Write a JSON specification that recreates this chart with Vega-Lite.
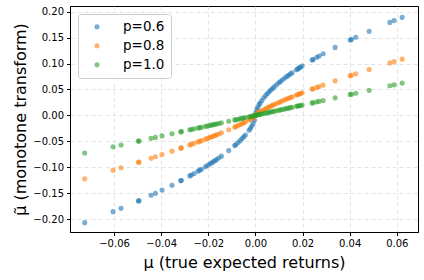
{
"$schema": "https://vega.github.io/schema/vega-lite/v6.json",
"autosize": {"type": "none"},
"width": 348, "height": 226,
"padding": {"left": 70, "top": 6, "right": 6, "bottom": 48},
"background": "white",
"config": {
  "font": "DejaVu Sans",
  "view": {"stroke": "black", "strokeWidth": 1},
  "axis": {"domainColor": "black", "tickColor": "black", "tickSize": 3.5, "labelFontSize": 10, "labelColor": "black", "gridColor": "#dcdcdc", "gridDash": [4, 3], "gridWidth": 0.8, "titleFontWeight": "normal", "titleFontSize": 16, "titleColor": "black"},
  "legend": {"padding": 6, "rowPadding": 4, "labelFontSize": 13.5}
},
"data": {"values": [
{"mu":-0.07247,"p":"p=0.6","y":-0.2070},{"mu":-0.06044,"p":"p=0.6","y":-0.1857},{"mu":-0.05704,"p":"p=0.6","y":-0.1794},{"mu":-0.04968,"p":"p=0.6","y":-0.1651},{"mu":-0.04940,"p":"p=0.6","y":-0.1645},{"mu":-0.04430,"p":"p=0.6","y":-0.1541},{"mu":-0.04246,"p":"p=0.6","y":-0.1503},{"mu":-0.03963,"p":"p=0.6","y":-0.1442},{"mu":-0.03539,"p":"p=0.6","y":-0.1347},{"mu":-0.03171,"p":"p=0.6","y":-0.1261},{"mu":-0.03142,"p":"p=0.6","y":-0.1254},{"mu":-0.02788,"p":"p=0.6","y":-0.1168},{"mu":-0.02718,"p":"p=0.6","y":-0.1150},{"mu":-0.02604,"p":"p=0.6","y":-0.1121},{"mu":-0.02435,"p":"p=0.6","y":-0.1076},{"mu":-0.02364,"p":"p=0.6","y":-0.1057},{"mu":-0.02293,"p":"p=0.6","y":-0.1038},{"mu":-0.02123,"p":"p=0.6","y":-0.0992},{"mu":-0.02038,"p":"p=0.6","y":-0.0968},{"mu":-0.01939,"p":"p=0.6","y":-0.0939},{"mu":-0.01868,"p":"p=0.6","y":-0.0918},{"mu":-0.01798,"p":"p=0.6","y":-0.0897},{"mu":-0.01727,"p":"p=0.6","y":-0.0876},{"mu":-0.01656,"p":"p=0.6","y":-0.0854},{"mu":-0.01557,"p":"p=0.6","y":-0.0823},{"mu":-0.01444,"p":"p=0.6","y":-0.0787},{"mu":-0.01132,"p":"p=0.6","y":-0.0680},{"mu":-0.00878,"p":"p=0.6","y":-0.0583},{"mu":-0.00835,"p":"p=0.6","y":-0.0566},{"mu":-0.00736,"p":"p=0.6","y":-0.0525},{"mu":-0.00651,"p":"p=0.6","y":-0.0488},{"mu":-0.00566,"p":"p=0.6","y":-0.0448},{"mu":-0.00495,"p":"p=0.6","y":-0.0414},{"mu":-0.00425,"p":"p=0.6","y":-0.0378},{"mu":-0.00269,"p":"p=0.6","y":-0.0287},{"mu":-0.00212,"p":"p=0.6","y":-0.0249},{"mu":-0.00156,"p":"p=0.6","y":-0.0207},{"mu":-0.00099,"p":"p=0.6","y":-0.0158},{"mu":-0.00042,"p":"p=0.6","y":-0.00942},{"mu":0.00014,"p":"p=0.6","y":0.00487},{"mu":0.00057,"p":"p=0.6","y":0.01131},{"mu":0.00099,"p":"p=0.6","y":0.0158},{"mu":0.00156,"p":"p=0.6","y":0.0207},{"mu":0.00198,"p":"p=0.6","y":0.0239},{"mu":0.00269,"p":"p=0.6","y":0.0287},{"mu":0.00354,"p":"p=0.6","y":0.0338},{"mu":0.00439,"p":"p=0.6","y":0.0385},{"mu":0.00510,"p":"p=0.6","y":0.0421},{"mu":0.00580,"p":"p=0.6","y":0.0455},{"mu":0.00651,"p":"p=0.6","y":0.0488},{"mu":0.00722,"p":"p=0.6","y":0.0519},{"mu":0.00793,"p":"p=0.6","y":0.0549},{"mu":0.00892,"p":"p=0.6","y":0.0589},{"mu":0.00991,"p":"p=0.6","y":0.0627},{"mu":0.01062,"p":"p=0.6","y":0.0654},{"mu":0.01147,"p":"p=0.6","y":0.0685},{"mu":0.01246,"p":"p=0.6","y":0.0720},{"mu":0.01331,"p":"p=0.6","y":0.0749},{"mu":0.01401,"p":"p=0.6","y":0.0773},{"mu":0.01486,"p":"p=0.6","y":0.0800},{"mu":0.01557,"p":"p=0.6","y":0.0823},{"mu":0.01741,"p":"p=0.6","y":0.0880},{"mu":0.01798,"p":"p=0.6","y":0.0897},{"mu":0.01854,"p":"p=0.6","y":0.0914},{"mu":0.01911,"p":"p=0.6","y":0.0930},{"mu":0.01982,"p":"p=0.6","y":0.0952},{"mu":0.02406,"p":"p=0.6","y":0.1068},{"mu":0.02449,"p":"p=0.6","y":0.1080},{"mu":0.02604,"p":"p=0.6","y":0.1121},{"mu":0.02703,"p":"p=0.6","y":0.1146},{"mu":0.02873,"p":"p=0.6","y":0.1189},{"mu":0.03383,"p":"p=0.6","y":0.1311},{"mu":0.04020,"p":"p=0.6","y":0.1454},{"mu":0.04076,"p":"p=0.6","y":0.1466},{"mu":0.04260,"p":"p=0.6","y":0.1506},{"mu":0.04827,"p":"p=0.6","y":0.1623},{"mu":0.05704,"p":"p=0.6","y":0.1794},{"mu":0.05888,"p":"p=0.6","y":0.1828},{"mu":0.06228,"p":"p=0.6","y":0.1891},
{"mu":-0.07247,"p":"p=0.8","y":-0.1225},{"mu":-0.06044,"p":"p=0.8","y":-0.1059},{"mu":-0.05704,"p":"p=0.8","y":-0.1012},{"mu":-0.04968,"p":"p=0.8","y":-0.0905},{"mu":-0.04940,"p":"p=0.8","y":-0.0901},{"mu":-0.04430,"p":"p=0.8","y":-0.0826},{"mu":-0.04246,"p":"p=0.8","y":-0.0799},{"mu":-0.03963,"p":"p=0.8","y":-0.0756},{"mu":-0.03539,"p":"p=0.8","y":-0.0690},{"mu":-0.03171,"p":"p=0.8","y":-0.0632},{"mu":-0.03142,"p":"p=0.8","y":-0.0628},{"mu":-0.02788,"p":"p=0.8","y":-0.0570},{"mu":-0.02718,"p":"p=0.8","y":-0.0559},{"mu":-0.02604,"p":"p=0.8","y":-0.0540},{"mu":-0.02435,"p":"p=0.8","y":-0.0512},{"mu":-0.02364,"p":"p=0.8","y":-0.0500},{"mu":-0.02293,"p":"p=0.8","y":-0.0488},{"mu":-0.02123,"p":"p=0.8","y":-0.0459},{"mu":-0.02038,"p":"p=0.8","y":-0.0444},{"mu":-0.01939,"p":"p=0.8","y":-0.0427},{"mu":-0.01868,"p":"p=0.8","y":-0.0414},{"mu":-0.01798,"p":"p=0.8","y":-0.0402},{"mu":-0.01727,"p":"p=0.8","y":-0.0389},{"mu":-0.01656,"p":"p=0.8","y":-0.0376},{"mu":-0.01557,"p":"p=0.8","y":-0.0358},{"mu":-0.01444,"p":"p=0.8","y":-0.0337},{"mu":-0.01132,"p":"p=0.8","y":-0.0277},{"mu":-0.00878,"p":"p=0.8","y":-0.0226},{"mu":-0.00835,"p":"p=0.8","y":-0.0217},{"mu":-0.00736,"p":"p=0.8","y":-0.0197},{"mu":-0.00651,"p":"p=0.8","y":-0.0178},{"mu":-0.00566,"p":"p=0.8","y":-0.0159},{"mu":-0.00495,"p":"p=0.8","y":-0.0143},{"mu":-0.00425,"p":"p=0.8","y":-0.0127},{"mu":-0.00269,"p":"p=0.8","y":-0.00879},{"mu":-0.00212,"p":"p=0.8","y":-0.00727},{"mu":-0.00156,"p":"p=0.8","y":-0.00569},{"mu":-0.00099,"p":"p=0.8","y":-0.00395},{"mu":-0.00042,"p":"p=0.8","y":-0.00199},{"mu":0.00014,"p":"p=0.8","y":0.00083},{"mu":0.00057,"p":"p=0.8","y":0.00254},{"mu":0.00099,"p":"p=0.8","y":0.00395},{"mu":0.00156,"p":"p=0.8","y":0.00569},{"mu":0.00198,"p":"p=0.8","y":0.00687},{"mu":0.00269,"p":"p=0.8","y":0.00879},{"mu":0.00354,"p":"p=0.8","y":0.01094},{"mu":0.00439,"p":"p=0.8","y":0.0130},{"mu":0.00510,"p":"p=0.8","y":0.01466},{"mu":0.00580,"p":"p=0.8","y":0.01624},{"mu":0.00651,"p":"p=0.8","y":0.0178},{"mu":0.00722,"p":"p=0.8","y":0.01936},{"mu":0.00793,"p":"p=0.8","y":0.02086},{"mu":0.00892,"p":"p=0.8","y":0.02292},{"mu":0.00991,"p":"p=0.8","y":0.02493},{"mu":0.01062,"p":"p=0.8","y":0.02635},{"mu":0.01147,"p":"p=0.8","y":0.02803},{"mu":0.01246,"p":"p=0.8","y":0.02995},{"mu":0.01331,"p":"p=0.8","y":0.03158},{"mu":0.01401,"p":"p=0.8","y":0.03289},{"mu":0.01486,"p":"p=0.8","y":0.03448},{"mu":0.01557,"p":"p=0.8","y":0.0358},{"mu":0.01741,"p":"p=0.8","y":0.03914},{"mu":0.01798,"p":"p=0.8","y":0.0402},{"mu":0.01854,"p":"p=0.8","y":0.04116},{"mu":0.01911,"p":"p=0.8","y":0.04217},{"mu":0.01982,"p":"p=0.8","y":0.04342},{"mu":0.02406,"p":"p=0.8","y":0.0507},{"mu":0.02449,"p":"p=0.8","y":0.0514},{"mu":0.02604,"p":"p=0.8","y":0.0540},{"mu":0.02703,"p":"p=0.8","y":0.0556},{"mu":0.02873,"p":"p=0.8","y":0.0584},{"mu":0.03383,"p":"p=0.8","y":0.0666},{"mu":0.04020,"p":"p=0.8","y":0.0765},{"mu":0.04076,"p":"p=0.8","y":0.0773},{"mu":0.04260,"p":"p=0.8","y":0.0801},{"mu":0.04827,"p":"p=0.8","y":0.0885},{"mu":0.05704,"p":"p=0.8","y":0.1012},{"mu":0.05888,"p":"p=0.8","y":0.1037},{"mu":0.06228,"p":"p=0.8","y":0.1085},
{"mu":-0.07247,"p":"p=1.0","y":-0.07247},{"mu":-0.06044,"p":"p=1.0","y":-0.06044},{"mu":-0.05704,"p":"p=1.0","y":-0.05704},{"mu":-0.04968,"p":"p=1.0","y":-0.04968},{"mu":-0.04940,"p":"p=1.0","y":-0.04940},{"mu":-0.04430,"p":"p=1.0","y":-0.04430},{"mu":-0.04246,"p":"p=1.0","y":-0.04246},{"mu":-0.03963,"p":"p=1.0","y":-0.03963},{"mu":-0.03539,"p":"p=1.0","y":-0.03539},{"mu":-0.03171,"p":"p=1.0","y":-0.03171},{"mu":-0.03142,"p":"p=1.0","y":-0.03142},{"mu":-0.02788,"p":"p=1.0","y":-0.02788},{"mu":-0.02718,"p":"p=1.0","y":-0.02718},{"mu":-0.02604,"p":"p=1.0","y":-0.02604},{"mu":-0.02435,"p":"p=1.0","y":-0.02435},{"mu":-0.02364,"p":"p=1.0","y":-0.02364},{"mu":-0.02293,"p":"p=1.0","y":-0.02293},{"mu":-0.02123,"p":"p=1.0","y":-0.02123},{"mu":-0.02038,"p":"p=1.0","y":-0.02038},{"mu":-0.01939,"p":"p=1.0","y":-0.01939},{"mu":-0.01868,"p":"p=1.0","y":-0.01868},{"mu":-0.01798,"p":"p=1.0","y":-0.01798},{"mu":-0.01727,"p":"p=1.0","y":-0.01727},{"mu":-0.01656,"p":"p=1.0","y":-0.01656},{"mu":-0.01557,"p":"p=1.0","y":-0.01557},{"mu":-0.01444,"p":"p=1.0","y":-0.01444},{"mu":-0.01132,"p":"p=1.0","y":-0.01132},{"mu":-0.00878,"p":"p=1.0","y":-0.00878},{"mu":-0.00835,"p":"p=1.0","y":-0.00835},{"mu":-0.00736,"p":"p=1.0","y":-0.00736},{"mu":-0.00651,"p":"p=1.0","y":-0.00651},{"mu":-0.00566,"p":"p=1.0","y":-0.00566},{"mu":-0.00495,"p":"p=1.0","y":-0.00495},{"mu":-0.00425,"p":"p=1.0","y":-0.00425},{"mu":-0.00269,"p":"p=1.0","y":-0.00269},{"mu":-0.00212,"p":"p=1.0","y":-0.00212},{"mu":-0.00156,"p":"p=1.0","y":-0.00156},{"mu":-0.00099,"p":"p=1.0","y":-0.00099},{"mu":-0.00042,"p":"p=1.0","y":-0.00042},{"mu":0.00014,"p":"p=1.0","y":0.00014},{"mu":0.00057,"p":"p=1.0","y":0.00057},{"mu":0.00099,"p":"p=1.0","y":0.00099},{"mu":0.00156,"p":"p=1.0","y":0.00156},{"mu":0.00198,"p":"p=1.0","y":0.00198},{"mu":0.00269,"p":"p=1.0","y":0.00269},{"mu":0.00354,"p":"p=1.0","y":0.00354},{"mu":0.00439,"p":"p=1.0","y":0.00439},{"mu":0.00510,"p":"p=1.0","y":0.00510},{"mu":0.00580,"p":"p=1.0","y":0.00580},{"mu":0.00651,"p":"p=1.0","y":0.00651},{"mu":0.00722,"p":"p=1.0","y":0.00722},{"mu":0.00793,"p":"p=1.0","y":0.00793},{"mu":0.00892,"p":"p=1.0","y":0.00892},{"mu":0.00991,"p":"p=1.0","y":0.00991},{"mu":0.01062,"p":"p=1.0","y":0.01062},{"mu":0.01147,"p":"p=1.0","y":0.01147},{"mu":0.01246,"p":"p=1.0","y":0.01246},{"mu":0.01331,"p":"p=1.0","y":0.01331},{"mu":0.01401,"p":"p=1.0","y":0.01401},{"mu":0.01486,"p":"p=1.0","y":0.01486},{"mu":0.01557,"p":"p=1.0","y":0.01557},{"mu":0.01741,"p":"p=1.0","y":0.01741},{"mu":0.01798,"p":"p=1.0","y":0.01798},{"mu":0.01854,"p":"p=1.0","y":0.01854},{"mu":0.01911,"p":"p=1.0","y":0.01911},{"mu":0.01982,"p":"p=1.0","y":0.01982},{"mu":0.02406,"p":"p=1.0","y":0.02406},{"mu":0.02449,"p":"p=1.0","y":0.02449},{"mu":0.02604,"p":"p=1.0","y":0.02604},{"mu":0.02703,"p":"p=1.0","y":0.02703},{"mu":0.02873,"p":"p=1.0","y":0.02873},{"mu":0.03383,"p":"p=1.0","y":0.03383},{"mu":0.04020,"p":"p=1.0","y":0.04020},{"mu":0.04076,"p":"p=1.0","y":0.04076},{"mu":0.04260,"p":"p=1.0","y":0.04260},{"mu":0.04827,"p":"p=1.0","y":0.04827},{"mu":0.05704,"p":"p=1.0","y":0.05704},{"mu":0.05888,"p":"p=1.0","y":0.05888},{"mu":0.06228,"p":"p=1.0","y":0.06228}
]},
"mark": {"type": "circle", "size": 26, "opacity": 0.6},
"encoding": {
  "x": {"field": "mu", "type": "quantitative",
    "scale": {"domain": [-0.0787, 0.069], "nice": false, "zero": false},
    "axis": {"values": [-0.06, -0.04, -0.02, 0, 0.02, 0.04, 0.06], "format": ".2f", "title": "μ (true expected returns)", "labelPadding": 3, "titlePadding": 6}},
  "y": {"field": "y", "type": "quantitative",
    "scale": {"domain": [-0.225, 0.211], "nice": false, "zero": false},
    "axis": {"values": [-0.2, -0.15, -0.1, -0.05, 0, 0.05, 0.1, 0.15, 0.2], "format": ".2f", "title": "μ̃ (monotone transform)", "labelPadding": 3, "titlePadding": 4}},
  "color": {"field": "p", "type": "nominal",
    "scale": {"domain": ["p=0.6", "p=0.8", "p=1.0"], "range": ["#1f77b4", "#ff7f0e", "#2ca02c"]},
    "legend": {"title": null, "orient": "top-left", "offset": 8, "fillColor": "white", "strokeColor": "#cccccc", "cornerRadius": 3, "labelColor": "black", "symbolType": "circle", "symbolSize": 26, "symbolOpacity": 0.6, "symbolStrokeWidth": 0,
      "encode": {"symbols": {"update": {"x": {"value": 13}, "size": {"value": 26}, "opacity": {"value": 0.6}}}, "labels": {"update": {"x": {"value": 39}}}}}},
  "order": {"field": "p", "type": "nominal"}
}
}
